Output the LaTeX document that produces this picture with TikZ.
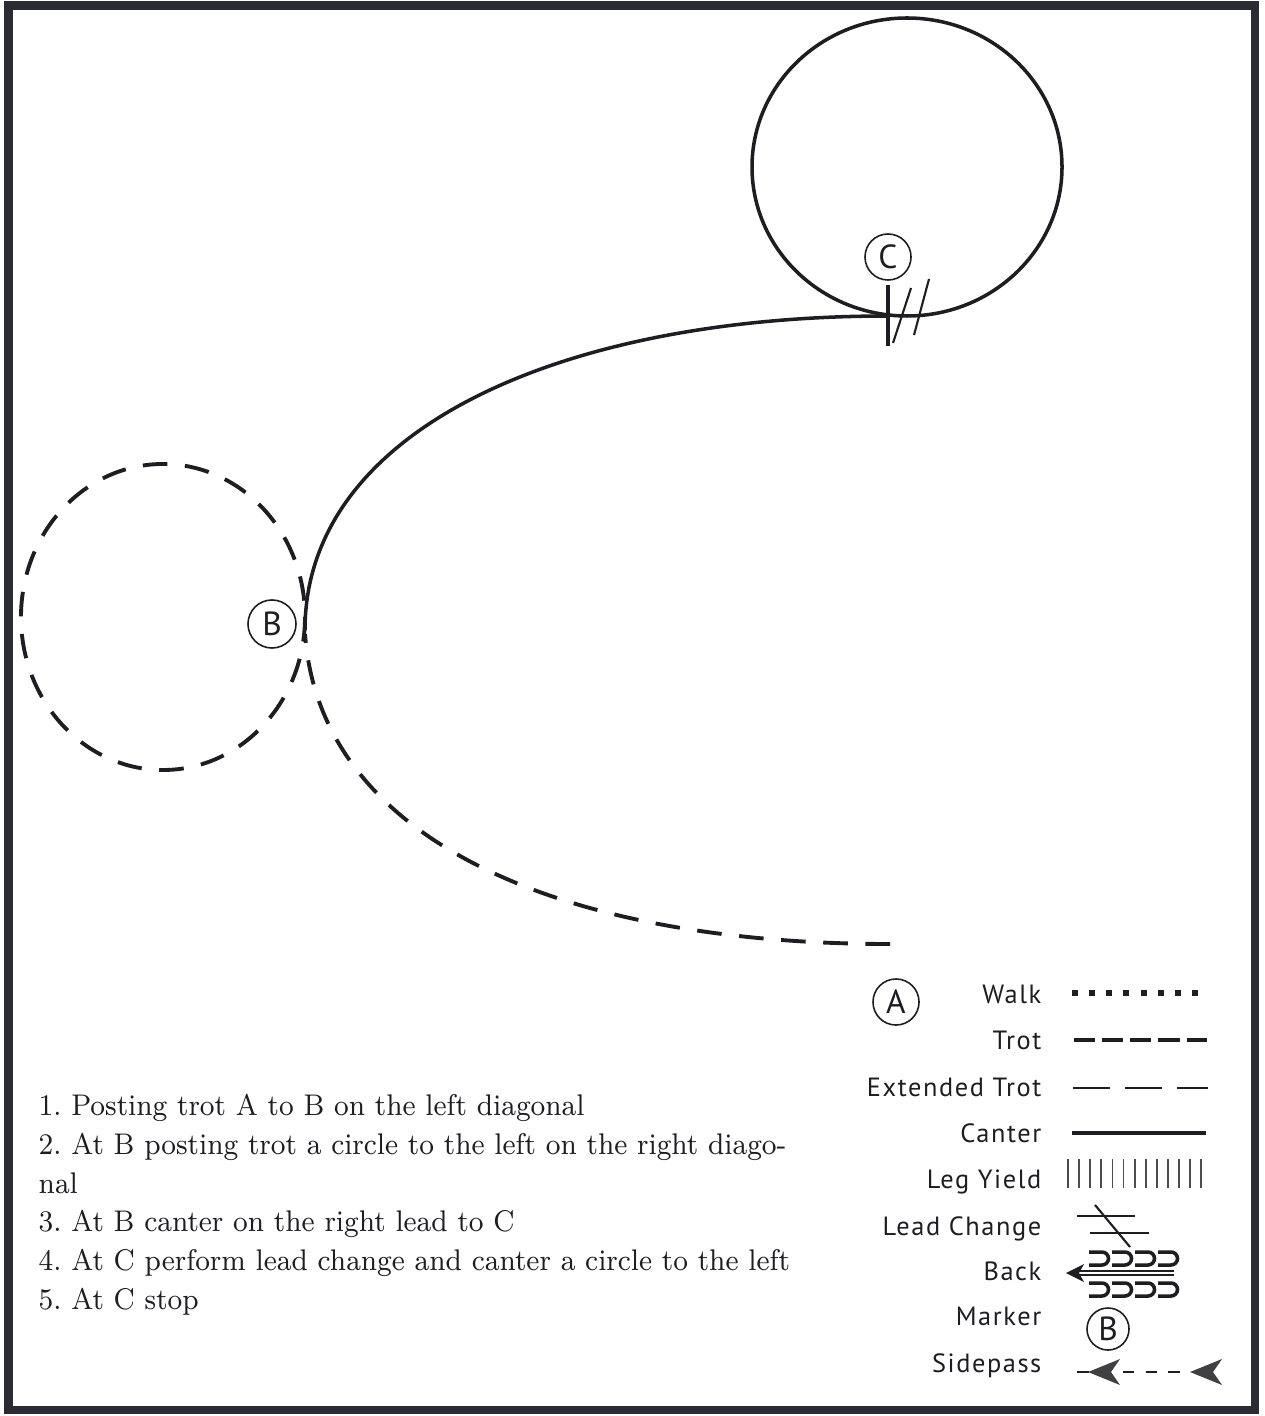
\documentclass[tikz,border=0pt]{standalone}
\usepackage{fontspec}
\newfontfamily\legendfont[LetterSpace=6]{PT Sans}
\newfontfamily\markerfont{PT Sans}
\newfontfamily\instrfont[FakeStretch=0.925]{Latin Modern Roman}
\usepackage{tikz}
\usetikzlibrary{arrows.meta}
\usepackage{xcolor}
\definecolor{ink}{HTML}{1E1E22}
\definecolor{framecol}{HTML}{2B2B36}
\frenchspacing

\begin{document}
\begin{tikzpicture}[x=0.01cm,y=-0.01cm,line cap=butt,
  marker/.style={circle,draw=ink,line width=0.45pt,minimum size=0.46cm,inner sep=0pt,text=ink,font=\markerfont\fontsize{9.5}{9.5}\selectfont},
  legend/.style={anchor=base east,inner sep=0pt,text=ink,font=\legendfont\fontsize{7.5}{9}\selectfont},
  instr/.style={anchor=base west,inner sep=0pt,text=ink,font=\instrfont\fontsize{8.5}{10}\selectfont},
  trot/.style={ink,line width=1.1pt,dash pattern=on 7pt off 5pt},
  canter/.style={ink,line width=1pt}]
\useasboundingbox (0,0) rectangle (1264,1416);
\fill[white] (0,0) rectangle (1264,1416);
\draw[framecol,line width=2.3pt] (8.5,5.5) rectangle (1255,1410);
\draw[canter] (907,167) ellipse [x radius=155,y radius=149];
\draw[trot] (163,617) ellipse [x radius=142,y radius=153];
\draw[canter] (305,630) .. controls (305,430) and (560,316) .. (888,316);
\draw[trot] (890,944) .. controls (560,944) and (320,840) .. (305,634);
\draw[ink,line width=1.2pt] (888,285) -- (888,346);
\draw[ink,line width=0.6pt] (893,343) -- (911,288);
\draw[ink,line width=0.6pt] (914,335) -- (929,279);
\node[marker] (mC) at (888,257) {C};
\node[marker,minimum size=0.48cm] (mB) at (272,624) {B};
\node[marker] (mA) at (896,1002) {A};
\node[legend] (walk) at (1042,1003) {Walk};
\node[legend] (trotlbl) at (1042,1049) {Trot};
\node[legend] (exttrot) at (1042,1096) {Extended Trot};
\node[legend] (canterlbl) at (1042,1142) {Canter};
\node[legend] (legyield) at (1042,1188) {Leg Yield};
\node[legend] (leadchange) at (1042,1235) {Lead Change};
\node[legend] (back) at (1042,1280) {Back};
\node[legend] (markerlbl) at (1042,1325) {Marker};
\node[legend] (sidepass) at (1042,1372) {Sidepass};
\draw[ink,line width=1.7pt,dash pattern=on 1.7pt off 3.17pt] (1072,993) -- (1200,993);
\draw[ink,line width=1.3pt,dash pattern=on 6pt off 2pt] (1074,1040) -- (1207,1040);
\draw[ink,line width=0.6pt,dash pattern=on 10.5pt off 4.3pt] (1073,1088) -- (1208,1088);
\draw[ink,line width=1.4pt] (1072,1133) -- (1206,1133);
\foreach \i in {0,...,12}
  \draw[gray!60!black,line width=0.5pt] ({1068+11.1*\i},1159) -- ++(0,29);
\draw[ink,line width=0.6pt] (1077,1216) -- (1135,1216);
\draw[ink,line width=0.6pt] (1090,1233) -- (1149,1233);
\draw[ink,line width=0.6pt] (1095,1205) -- (1130,1247);
\fill[ink] (1066,1273) -- (1084,1264) -- (1079,1273) -- (1084,1282) -- cycle;
\draw[ink,line width=0.6pt] (1076,1271) -- (1174,1271);
\draw[ink,line width=0.6pt] (1076,1275) -- (1174,1275);
\foreach \i in {0,...,3} {
  \draw[ink,line width=1pt] ({1089+23*\i},1252) -- ++(13,0) arc[start angle=-90,end angle=90,radius=6.5] -- ++(-13,0);
  \draw[ink,line width=1pt] ({1089+23*\i},1283) -- ++(13,0) arc[start angle=-90,end angle=90,radius=6.5] -- ++(-13,0);
}
\node[marker,minimum size=0.42cm] (mBkey) at (1108,1329) {B};
\draw[ink,line width=0.8pt,dash pattern=on 3.3pt off 3.2pt] (1077,1372) -- (1190,1372);
\fill[ink!85] (1088,1372) -- (1120,1359) -- (1111,1372) -- (1120,1385) -- cycle;
\fill[ink!85] (1190,1372) -- (1222,1359) -- (1213,1372) -- (1222,1385) -- cycle;
\node[instr] (line1) at (38,1115) {1. Posting trot A to B on the left diagonal};
\node[instr] (line2) at (38,1154) {2. At B posting trot a circle to the left on the right diago-};
\node[instr] (line2b) at (38,1193) {nal};
\node[instr] (line3) at (38,1231) {3. At B canter on the right lead to C};
\node[instr] (line4) at (38,1270) {4. At C perform lead change and canter a circle to the left};
\node[instr] (line5) at (38,1309) {5. At C stop};
\end{tikzpicture}
\end{document}
